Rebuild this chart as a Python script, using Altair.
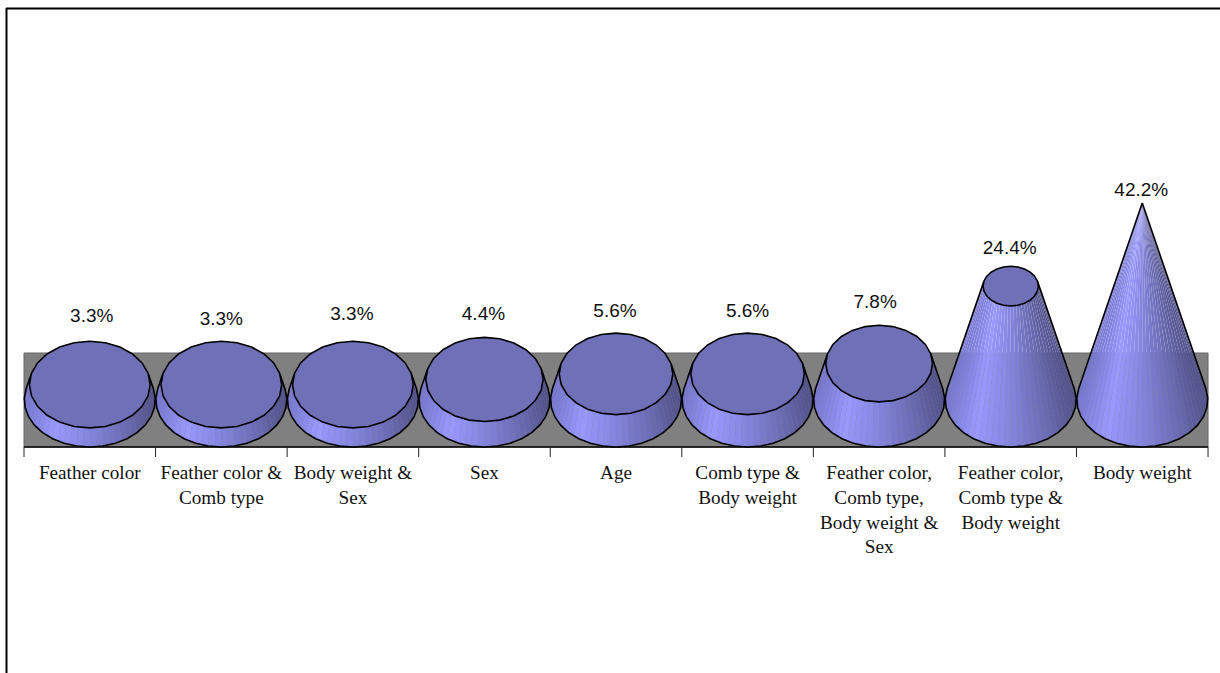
import math
import altair as alt
import pandas as pd

# Share of variance per trait group, in percent
categories = [
    "Feather color",
    "Feather color &\nComb type",
    "Body weight &\nSex",
    "Sex",
    "Age",
    "Comb type &\nBody weight",
    "Feather color,\nComb type,\nBody weight &\nSex",
    "Feather color,\nComb type &\nBody weight",
    "Body weight",
]
values = [3.3, 3.3, 3.3, 4.4, 5.6, 5.6, 7.8, 24.4, 42.2]

WIDTH, HEIGHT = 1220, 673
PX_PER_CAT = 131.56      # horizontal pixels per category
PX_PER_PCT = 4.668       # vertical pixels per percentage point
BASE_X_PX, BASE_Y_PX = 24.0, 400.0
RX = 65.5 / PX_PER_CAT   # base ellipse half-width, category units
RY = 47.0 / PX_PER_PCT   # base ellipse half-height, percent units
PEAK = max(values)
SIDE_STEPS = 36
OUTLINE_STRIDE = 2
TOP_STEPS = 24

# Hand placement of the value labels, in pixels: sideways shift and gap above each cone
label_shift_px = [2, 0, -1, -1, -1, 0, -4, -1, -1]
label_gap_px = [25, 22, 27, 23, 22, 22, 23, 18, 13]

x_scale = alt.Scale(
    domain=[-BASE_X_PX / PX_PER_CAT, (WIDTH - BASE_X_PX) / PX_PER_CAT],
    range=[0, WIDTH], nice=False, zero=False,
)
y_scale = alt.Scale(
    domain=[-(HEIGHT - BASE_Y_PX) / PX_PER_PCT, BASE_Y_PX / PX_PER_PCT],
    range=[HEIGHT, 0], nice=False, zero=False,
)
X = alt.X("x:Q", scale=x_scale, axis=None)
Y = alt.Y("y:Q", scale=y_scale, axis=None)

SHADE_STOPS = [  # (position across the cone from left to right, rgb)
    (0.00, (120, 120, 210)),
    (0.22, (153, 153, 255)),
    (0.50, (132, 132, 222)),
    (0.78, (108, 108, 180)),
    (1.00, (82, 82, 140)),
]


def shade(u):
    for (u0, c0), (u1, c1) in zip(SHADE_STOPS, SHADE_STOPS[1:]):
        if u <= u1:
            t = (u - u0) / (u1 - u0)
            return "#%02x%02x%02x" % tuple(round(a + (b - a) * t) for a, b in zip(c0, c1))
    return "#525290"


def rim(center, height, shrink, phi):
    """Point on the ellipse of a cone at the given height; phi runs clockwise on screen."""
    return (center + RX * shrink * math.cos(phi), height - RY * shrink * math.sin(phi))


# Visible flank runs slightly past the widest points, up to the tangent of the silhouette
tangent = math.asin(RY / PEAK)

strip_rows, outline_rows, top_rows = [], [], []
for i, v in enumerate(values):
    center = i + 0.5
    shrink = 1 - v / PEAK
    phis = [-tangent + (math.pi + 2 * tangent) * k / SIDE_STEPS for k in range(SIDE_STEPS + 1)]
    for k in range(SIDE_STEPS):
        p0, p1 = phis[k], phis[k + 1]
        mid = (p0 + p1) / 2
        fill = shade(max(0.0, min(1.0, (1 + math.cos(mid)) / 2)))
        corners = [rim(center, 0, 1, p0), rim(center, 0, 1, p1),
                   rim(center, v, shrink, p1), rim(center, v, shrink, p0)]
        for n, (x, y) in enumerate(corners + corners[:1]):
            strip_rows.append({"x": x, "y": y, "strip": f"{i}-{k}", "ord": n, "fill": fill, "cone": i})
    path = (
        [rim(center, v, shrink, phis[0])]
        + [rim(center, 0, 1, p) for p in phis[::OUTLINE_STRIDE]]
        + [rim(center, v, shrink, phis[-1])]
    )
    for n, (x, y) in enumerate(path):
        outline_rows.append({"x": x, "y": y, "cone": i, "ord": n})
    if shrink > 0:
        for n in range(TOP_STEPS + 1):
            x, y = rim(center, v, shrink, 2 * math.pi * n / TOP_STEPS)
            top_rows.append({"x": x, "y": y, "cone": i, "ord": n})

wall = alt.Chart(pd.DataFrame([{"x": 0, "x2": len(values), "y": -RY, "y2": RY}])).mark_rect(
    color="#808080", stroke="#666666", strokeWidth=1
).encode(x=X, x2="x2:Q", y=Y, y2="y2:Q")

flanks = alt.Chart(pd.DataFrame(strip_rows)).mark_line(strokeWidth=0, interpolate="linear").encode(
    x=X, y=Y, detail="strip:N", order="ord:Q",
    fill=alt.Fill("fill:N", scale=None),
)

outlines = alt.Chart(pd.DataFrame(outline_rows)).mark_line(color="black", strokeWidth=1.6).encode(
    x=X, y=Y, detail="cone:N", order="ord:Q"
)

tops = alt.Chart(pd.DataFrame(top_rows)).mark_line(
    stroke="black", strokeWidth=1.6, fill="#7070b8"
).encode(x=X, y=Y, detail="cone:N", order="ord:Q")

baseline = alt.Chart(pd.DataFrame([{"x": 0, "x2": len(values), "y": -RY}])).mark_rule(
    color="black", strokeWidth=1.5
).encode(x=X, x2="x2:Q", y=Y)

ticks = alt.Chart(pd.DataFrame([
    {"x": k, "y": -RY, "y2": -RY - 10 / PX_PER_PCT} for k in range(len(values) + 1)
])).mark_rule(color="#222222", strokeWidth=1).encode(x=X, y=Y, y2="y2:Q")

value_labels = alt.Chart(pd.DataFrame([
    {"x": i + 0.5 + label_shift_px[i] / PX_PER_CAT,
     "y": v + RY * (1 - v / PEAK) + label_gap_px[i] / PX_PER_PCT,
     "label": f"{v:.1f}%"}
    for i, v in enumerate(values)
])).mark_text(font="Liberation Sans", fontSize=19, color="#111111", baseline="middle").encode(
    x=X, y=Y, text="label:N"
)

category_labels = alt.Chart(pd.DataFrame([
    {"x": i + 0.5, "label": c} for i, c in enumerate(categories)
])).mark_text(
    font="Liberation Serif", fontSize=19.2, color="#111111", baseline="top",
    lineBreak="\n", lineHeight=24.8, align="center",
).encode(x=X, y=alt.value(464), text="label:N")

frame_top = alt.Chart(pd.DataFrame([{"a": 1}])).mark_rule(color="black", strokeWidth=2).encode(
    x=alt.value(6), x2=alt.value(WIDTH), y=alt.value(8.5)
)
frame_left = alt.Chart(pd.DataFrame([{"a": 1}])).mark_rule(color="black", strokeWidth=2).encode(
    x=alt.value(6.5), y=alt.value(8), y2=alt.value(HEIGHT)
)

chart = alt.layer(
    frame_top, frame_left, wall, baseline, ticks, flanks, outlines, tops, value_labels, category_labels
).properties(
    width=WIDTH, height=HEIGHT, padding=0, autosize=alt.AutoSizeParams(type="none"),
    background="white",
).configure_view(stroke=None)

chart.save("out.html", embed_options={"renderer": "svg", "actions": False})
